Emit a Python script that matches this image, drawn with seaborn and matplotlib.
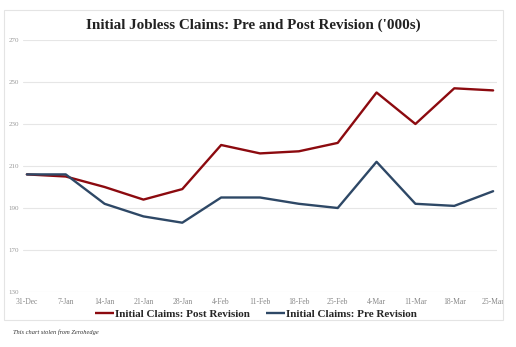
import matplotlib
matplotlib.use("Agg")
import matplotlib.pyplot as plt
import seaborn as sns
import pandas as pd
from matplotlib.patches import Rectangle
from matplotlib.lines import Line2D

dates = ["31-Dec", "7-Jan", "14-Jan", "21-Jan", "28-Jan", "4-Feb", "11-Feb",
         "18-Feb", "25-Feb", "4-Mar", "11-Mar", "18-Mar", "25-Mar"]
post_revision = [206, 205, 200, 194, 199, 220, 216, 217, 221, 245, 230, 247, 246]
pre_revision = [206, 206, 192, 186, 183, 195, 195, 192, 190, 212, 192, 191, 198]
y_ticks = [150, 170, 190, 210, 230, 250, 270]
y_tick_labels = ["130", "170", "190", "210", "230", "250", "270"]
series_names = ["Initial Claims: Post Revision", "Initial Claims: Pre Revision"]
title = "Initial Jobless Claims: Pre and Post Revision ('000s)"
footnote = "This chart stolen from Zerohedge"

df = pd.DataFrame({
    "idx": list(range(len(dates))) * 2,
    "value": post_revision + pre_revision,
    "series": [series_names[0]] * len(dates) + [series_names[1]] * len(dates),
})

sns.set_theme(style="white")
plt.rcParams["font.family"] = ["Liberation Serif", "DejaVu Serif"]

W, H = 516, 347
fig = plt.figure(figsize=(W / 100, H / 100), dpi=100)
fig.patch.set_facecolor("white")

# outer frame
fig.add_artist(Rectangle((4 / W, 1 - 320 / H), (503 - 4) / W, (320 - 10) / H,
                         transform=fig.transFigure, fill=False,
                         edgecolor="#e4e4e4", linewidth=0.8))

ax = fig.add_axes([23 / W, 1 - 292 / H, (497 - 23) / W, (292 - 40) / H])
palette = {series_names[0]: "#8c0a0f", series_names[1]: "#2e4866"}
sns.lineplot(data=df, x="idx", y="value", hue="series", palette=palette,
             linewidth=1.7, ax=ax, legend=False)

ax.set_xlim(-0.1, 12.1)
ax.set_ylim(150, 270)
ax.set_yticks(y_ticks)
ax.set_yticklabels(y_tick_labels)
ax.set_xticks(range(len(dates)))
ax.set_xticklabels(dates)
ax.tick_params(axis="y", labelsize=5, colors="#999999", length=0, pad=3)
ax.tick_params(axis="x", labelsize=5.5, colors="#888888", length=0, pad=4)
ax.grid(axis="y", color="#e6e6e6", linewidth=0.8)
ax.grid(axis="x", visible=False)
for s in ax.spines.values():
    s.set_visible(False)
ax.set_xlabel("")
ax.set_ylabel("")

fig.text(253 / W, 1 - 25 / H, title, ha="center", va="center",
         fontsize=10.9, fontweight="bold", color="#222222")

# legend
handles = [Line2D([0], [0], color=palette[n], linewidth=1.7, solid_capstyle="butt")
           for n in series_names]
fig.legend(handles, series_names, loc="center", bbox_to_anchor=(256 / W, 1 - 314 / H),
           ncol=2, frameon=False, handlelength=1.7, handletextpad=0.15,
           columnspacing=1.4, prop={"family": "Liberation Serif", "weight": "bold", "size": 8})

fig.text(13 / W, 1 - 332 / H, footnote, ha="left", va="center",
         fontsize=4.6, style="italic", color="#333333")

fig.savefig("out.png", dpi=100, facecolor="white")
